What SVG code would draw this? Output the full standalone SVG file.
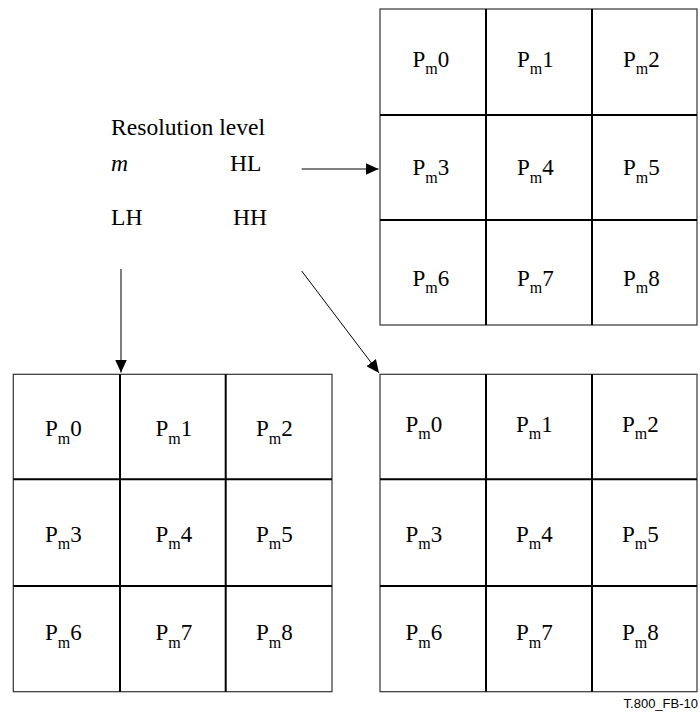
<svg xmlns="http://www.w3.org/2000/svg" width="700" height="716" viewBox="0 0 700 716">
  <style>
    .t { font-family: 'Liberation Serif', 'Times New Roman', 'DejaVu Serif', serif; font-size: 23px; fill: #000; }
    .l { font-size: 23.6px; }
    .s { font-size: 16px; }
    .outer { fill: #fff; stroke: #333; stroke-width: 1.2; }
    .inner { stroke: #000; stroke-width: 2; fill: none; }
    .conn { stroke: #000; stroke-width: 1; fill: none; marker-end: url(#ah); }
    .ref { font-family: 'Liberation Sans', Arial, sans-serif; font-size: 13px; fill: #000; }
  </style>
  <defs>
    <marker id="ah" viewBox="0 0 13 12" refX="13" refY="6" markerWidth="13" markerHeight="12" markerUnits="userSpaceOnUse" orient="auto">
      <path d="M0,0 L13,6 L0,12 z" fill="#000"/>
    </marker>
  </defs>
  <rect width="700" height="716" fill="#fff"/>

  <g id="label" font-family="Liberation Serif, serif">
    <text class="t l" x="111" y="135">Resolution level</text>
    <text class="t l" x="111" y="171" font-style="italic">m</text>
    <text class="t l" x="230" y="171">HL</text>
    <text class="t l" x="111" y="225">LH</text>
    <text class="t l" x="233" y="225">HH</text>
  </g>

  <g id="grid-HL" font-family="Liberation Serif, serif">
    <rect class="outer" x="380" y="9" width="317" height="316"/>
    <path class="inner" d="M486,9 V325 M592,9 V325 M380,115 H697 M380,220 H697"/>
    <text class="t" x="412.5" y="66.7">P<tspan class="s" dy="7.5">m</tspan><tspan dy="-7.5">0</tspan></text>
    <text class="t" x="517" y="66.7">P<tspan class="s" dy="7.5">m</tspan><tspan dy="-7.5">1</tspan></text>
    <text class="t" x="623" y="66.7">P<tspan class="s" dy="7.5">m</tspan><tspan dy="-7.5">2</tspan></text>
    <text class="t" x="412.5" y="175">P<tspan class="s" dy="7.5">m</tspan><tspan dy="-7.5">3</tspan></text>
    <text class="t" x="517" y="175">P<tspan class="s" dy="7.5">m</tspan><tspan dy="-7.5">4</tspan></text>
    <text class="t" x="623" y="175">P<tspan class="s" dy="7.5">m</tspan><tspan dy="-7.5">5</tspan></text>
    <text class="t" x="412.5" y="285.7">P<tspan class="s" dy="7.5">m</tspan><tspan dy="-7.5">6</tspan></text>
    <text class="t" x="517" y="285.7">P<tspan class="s" dy="7.5">m</tspan><tspan dy="-7.5">7</tspan></text>
    <text class="t" x="623" y="285.7">P<tspan class="s" dy="7.5">m</tspan><tspan dy="-7.5">8</tspan></text>
  </g>

  <g id="grid-LH" font-family="Liberation Serif, serif">
    <rect class="outer" x="13.3" y="374.3" width="318.7" height="317.4"/>
    <path class="inner" d="M120,374.3 V691.7 M225.7,374.3 V691.7 M13.3,479.3 H332 M13.3,586 H332"/>
    <text class="t" x="45" y="436">P<tspan class="s" dy="7.5">m</tspan><tspan dy="-7.5">0</tspan></text>
    <text class="t" x="155.5" y="436">P<tspan class="s" dy="7.5">m</tspan><tspan dy="-7.5">1</tspan></text>
    <text class="t" x="256" y="436">P<tspan class="s" dy="7.5">m</tspan><tspan dy="-7.5">2</tspan></text>
    <text class="t" x="45" y="541.7">P<tspan class="s" dy="7.5">m</tspan><tspan dy="-7.5">3</tspan></text>
    <text class="t" x="155.5" y="541.7">P<tspan class="s" dy="7.5">m</tspan><tspan dy="-7.5">4</tspan></text>
    <text class="t" x="256" y="541.7">P<tspan class="s" dy="7.5">m</tspan><tspan dy="-7.5">5</tspan></text>
    <text class="t" x="45" y="640">P<tspan class="s" dy="7.5">m</tspan><tspan dy="-7.5">6</tspan></text>
    <text class="t" x="155.5" y="640">P<tspan class="s" dy="7.5">m</tspan><tspan dy="-7.5">7</tspan></text>
    <text class="t" x="256" y="640">P<tspan class="s" dy="7.5">m</tspan><tspan dy="-7.5">8</tspan></text>
  </g>

  <g id="grid-HH" font-family="Liberation Serif, serif">
    <rect class="outer" x="380" y="374.3" width="317" height="317.4"/>
    <path class="inner" d="M486,374.3 V691.7 M592,374.3 V691.7 M380,479.3 H697 M380,586 H697"/>
    <text class="t" x="405.5" y="431.7">P<tspan class="s" dy="7.5">m</tspan><tspan dy="-7.5">0</tspan></text>
    <text class="t" x="516" y="431.7">P<tspan class="s" dy="7.5">m</tspan><tspan dy="-7.5">1</tspan></text>
    <text class="t" x="622" y="431.7">P<tspan class="s" dy="7.5">m</tspan><tspan dy="-7.5">2</tspan></text>
    <text class="t" x="405.5" y="541.7">P<tspan class="s" dy="7.5">m</tspan><tspan dy="-7.5">3</tspan></text>
    <text class="t" x="516" y="541.7">P<tspan class="s" dy="7.5">m</tspan><tspan dy="-7.5">4</tspan></text>
    <text class="t" x="622" y="541.7">P<tspan class="s" dy="7.5">m</tspan><tspan dy="-7.5">5</tspan></text>
    <text class="t" x="405.5" y="640">P<tspan class="s" dy="7.5">m</tspan><tspan dy="-7.5">6</tspan></text>
    <text class="t" x="516" y="640">P<tspan class="s" dy="7.5">m</tspan><tspan dy="-7.5">7</tspan></text>
    <text class="t" x="622" y="640">P<tspan class="s" dy="7.5">m</tspan><tspan dy="-7.5">8</tspan></text>
  </g>

  <g id="connectors">
    <line class="conn" x1="301.7" y1="169" x2="378.5" y2="169"/>
    <line class="conn" x1="121" y1="269" x2="121" y2="372.5"/>
    <line class="conn" x1="301.7" y1="271" x2="379" y2="373"/>
  </g>

  <text class="ref" x="698" y="708" text-anchor="end">T.800_FB-10</text>
</svg>
